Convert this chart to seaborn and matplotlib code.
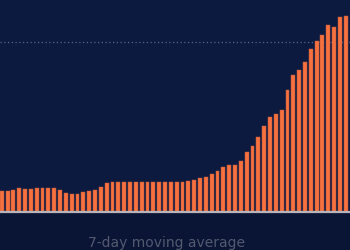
import numpy as np
import pandas as pd
import matplotlib
matplotlib.use("Agg")
import matplotlib.pyplot as plt
import seaborn as sns

# Data (daily values, 7-day moving average; reference line at 100)
days = list(range(1, 61))
values = [12.2, 12.4, 12.8, 13.9, 13.5, 13.5, 13.9, 13.9, 14.1, 14.1,
          12.5, 11.0, 10.6, 10.6, 11.6, 11.9, 12.5, 14.5, 16.6, 17.6,
          17.6, 17.6, 17.6, 17.6, 17.6, 17.5, 17.5, 17.5, 17.5, 17.6,
          17.3, 17.5, 18.2, 18.6, 19.6, 20.6, 22.0, 23.7, 26.5, 27.3,
          27.3, 29.6, 34.9, 38.6, 43.9, 50.2, 55.6, 57.6, 59.8, 71.5,
          80.5, 83.4, 88.1, 95.6, 100.1, 103.6, 109.5, 108.7, 114.2, 114.8]
ref_value = 100
caption = "7-day moving average"

df = pd.DataFrame({"day": days, "value": values})

sns.set_theme(style="white")
plt.rcParams['font.family'] = ['DejaVu Sans']

W, H = 350, 250
dpi = 100
fig = plt.figure(figsize=(W / dpi, H / dpi), dpi=dpi)
fig.patch.set_facecolor("#0a1535")

base_px = 211.7
px_per_unit = 170.2 / ref_value
ax_bottom = (H - base_px) / H
ax = fig.add_axes([0, ax_bottom, 1, 1 - ax_bottom], zorder=1)
ax.set_facecolor("#0c1a40")

sns.barplot(data=df, x="day", y="value", ax=ax, color="#f7703f",
            width=0.66, saturation=1, edgecolor="#b85a3e", linewidth=0.35)

ax.set_xlim(-0.3, 59.73)
ax.set_ylim(0, base_px / px_per_unit)
ax.axhline(ref_value, color="#56658f", linestyle=(0, (1, 2)), linewidth=0.9, zorder=0)
ax.axhline(0, color="#b8b4bc", linewidth=1.6, zorder=3, clip_on=False)

for s in ax.spines.values():
    s.set_visible(False)
ax.set_xticks([]); ax.set_yticks([])
ax.set_xlabel(""); ax.set_ylabel("")

fig.text(0.477, 1 - 242.5 / H, caption, ha="center", va="center",
         color="#53596f", fontsize=10)

fig.savefig("out.png", dpi=dpi, facecolor=fig.get_facecolor())
